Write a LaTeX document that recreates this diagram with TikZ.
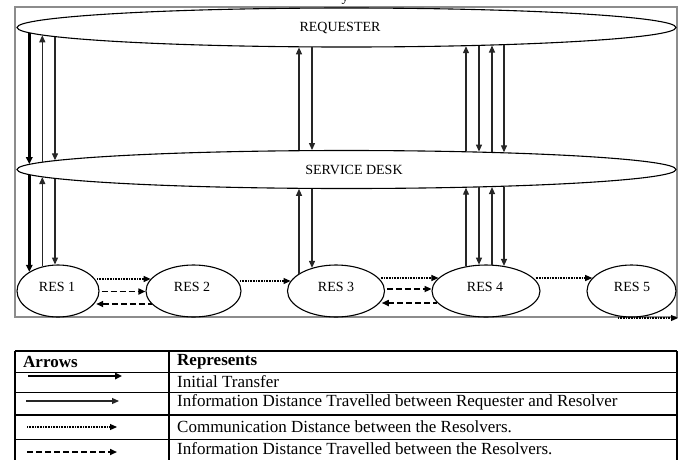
\documentclass[tikz,border=0pt]{standalone}
\usepackage{fontspec}
\setmainfont{Liberation Serif}
\usetikzlibrary{arrows.meta,shapes.geometric,calc}

% vertical connector at x=#2 from lower border of #3 to upper border of #4
\newcommand\vconn[4]{%
  \draw[#1] let \p1=(#3.center), \p2=(#3.east), \p3=(#3.south),
                \p4=(#4.center), \p5=(#4.east), \p6=(#4.north),
                \n1={sqrt(1-(((#2pt)-(\x1))/((\x2)-(\x1)))^2)},
                \n2={sqrt(1-(((#2pt)-(\x4))/((\x5)-(\x4)))^2)}
            in ({#2pt},{(\y1)+((\y3)-(\y1))*\n1}) -- ({#2pt},{(\y4)+((\y6)-(\y4))*\n2});}
% horizontal connector at y=#2 from right border of #3 to left border of #4
\newcommand\hconn[4]{%
  \draw[#1] let \p1=(#3.center), \p2=(#3.north), \p3=(#3.east),
                \p4=(#4.center), \p5=(#4.north), \p6=(#4.west),
                \n1={sqrt(1-(((-#2pt)-(\y1))/((\y2)-(\y1)))^2)},
                \n2={sqrt(1-(((-#2pt)-(\y4))/((\y5)-(\y4)))^2)}
            in ({(\x1)+((\x3)-(\x1))*\n1},{-#2pt}) -- ({(\x4)+((\x6)-(\x4))*\n2},{-#2pt});}

\begin{document}
\begin{tikzpicture}[x=1pt,y=-1pt,
  ell/.style={draw, ellipse, inner sep=0pt, line width=1.1pt},
  lbl/.style={inner sep=0pt, font=\fontsize{14}{16}\selectfont},
  tbl/.style={inner sep=0pt, anchor=west, font=\fontsize{17}{19}\selectfont},
  tblhead/.style={inner sep=0pt, anchor=west, font=\fontsize{17}{19}\selectfont\bfseries},
  thickarr/.style={line width=2.4pt, -{Triangle[length=7pt,width=6.5pt]}},
  thindown/.style={line width=1.2pt, black!85, -{Triangle[length=7pt,width=6pt]}},
  thinup/.style={line width=1.2pt, black!85, {Triangle[length=7pt,width=6pt]}-},
  dotarr/.style={line width=1.1pt, dash pattern=on 0.8pt off 0.8pt, shorten <=2pt, -{Triangle[length=7pt,width=6pt]}},
  dasharr/.style={line width=1.6pt, dash pattern=on 6pt off 3pt, shorten <=2pt, -{Triangle[length=7pt,width=6pt]}},
  dashback/.style={line width=1.6pt, dash pattern=on 6pt off 3pt, shorten <=2pt, {Triangle[length=7pt,width=6pt]}-},
  tline/.style={line width=1.2pt}
]
\useasboundingbox (0,0) rectangle (683,459);

% cut-off caption fragment
\node[lbl, anchor=base] (ycut) at (345,1) {y};

% frame
\draw[black!45, line width=1.3pt] (15,7) rectangle (677,317);

% ellipses
\node[ell, minimum width=659pt, minimum height=39pt] (req) at (346.5,27.5) {};
\node[ell, minimum width=659pt, minimum height=38pt] (sd) at (346.5,169.5) {};
\node[ell, minimum width=82pt, minimum height=52pt] (res1) at (58,291) {};
\node[ell, minimum width=95pt, minimum height=52pt] (res2) at (193.5,291) {};
\node[ell, minimum width=97pt, minimum height=52pt] (res3) at (336,291) {};
\node[ell, minimum width=108pt, minimum height=52pt] (res4) at (486,291) {};
\node[ell, minimum width=89pt, minimum height=52pt] (res5) at (631.5,291) {};

% labels
\node[lbl] (treq) at (340,28) {REQUESTER};
\node[lbl] (tsd) at (354,170) {SERVICE DESK};
\node[lbl] (t1) at (57,287) {RES 1};
\node[lbl] (t2) at (192,287) {RES 2};
\node[lbl] (t3) at (336,287) {RES 3};
\node[lbl] (t4) at (485,287) {RES 4};
\node[lbl] (t5) at (632,287) {RES 5};

% requester <-> service desk
\vconn{thickarr}{29.3}{req}{sd}
\vconn{thinup}{42.3}{req}{sd}
\vconn{thindown}{55}{req}{sd}
\vconn{thinup}{299}{req}{sd}
\vconn{thindown}{312}{req}{sd}
\vconn{thinup}{466}{req}{sd}
\vconn{thindown}{479}{req}{sd}
\vconn{thinup}{492}{req}{sd}
\vconn{thindown}{504}{req}{sd}

% service desk <-> resolvers
\vconn{thickarr}{29.3}{sd}{res1}
\vconn{thinup}{42.3}{sd}{res1}
\vconn{thindown}{55}{sd}{res1}
\vconn{thinup}{299}{sd}{res3}
\vconn{thindown}{312}{sd}{res3}
\vconn{thinup}{466}{sd}{res4}
\vconn{thindown}{479}{sd}{res4}
\vconn{thinup}{492}{sd}{res4}
\vconn{thindown}{504}{sd}{res4}

% between resolvers
\hconn{dotarr}{279}{res1}{res2}
\hconn{dasharr}{291.5}{res1}{res2}
\hconn{dashback}{304}{res1}{res2}
\hconn{dotarr}{281}{res2}{res3}
\hconn{dotarr}{278}{res3}{res4}
\hconn{dasharr}{289}{res3}{res4}
\hconn{dashback}{303}{res3}{res4}
\hconn{dotarr}{278}{res4}{res5}
\coordinate (r5s) at (618,318);
\coordinate (r5out) at (678,318);
\draw[dotarr, shorten <=0pt] (r5s) -- (r5out);

% legend table
\foreach \yy in {351,372.5,392.7,415,439.3}
  \draw[tline] (15,\yy) -- (677,\yy);
\foreach \xx in {15,169,677}
  \draw[tline] (\xx,351) -- (\xx,460);

\node[tblhead] (hArr) at (23,362) {Arrows};
\node[tblhead] (hRep) at (177,362) {Represents};
\node[tbl] (d1) at (177,382) {Initial Transfer};
\node[tbl] (d2) at (177,402) {Information Distance Travelled between Requester and Resolver};
\node[tbl] (d3) at (177,427) {Communication Distance between the Resolvers.};
\node[tbl] (d4) at (177,448.5) {Information Distance Travelled between the Resolvers.};

\coordinate (l1a) at (28,376);  \coordinate (l1b) at (122,376);
\coordinate (l2a) at (26,401);  \coordinate (l2b) at (119,401);
\coordinate (l3a) at (27,427);  \coordinate (l3b) at (117,427);
\coordinate (l4a) at (27,452);  \coordinate (l4b) at (117,452);
\draw[thickarr] (l1a) -- (l1b);
\draw[thindown] (l2a) -- (l2b);
\draw[dotarr, shorten <=0pt] (l3a) -- (l3b);
\draw[dasharr, shorten <=0pt] (l4a) -- (l4b);
\end{tikzpicture}
\end{document}
